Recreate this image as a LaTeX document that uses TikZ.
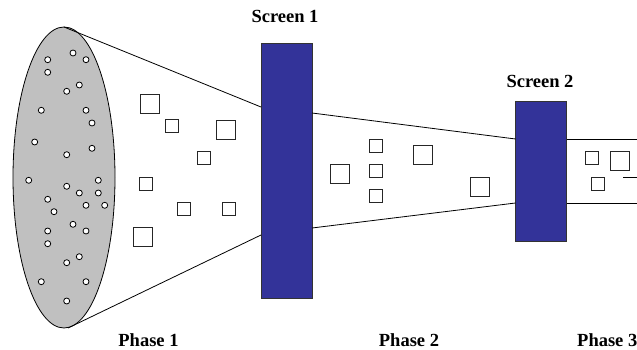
\documentclass[tikz,border=0pt]{standalone}
\usepackage{fontspec}
\setmainfont{Liberation Serif}
\usetikzlibrary{shapes.geometric}
\definecolor{screenblue}{HTML}{333399}
\definecolor{lensgray}{HTML}{C0C0C0}
\begin{document}
\begin{tikzpicture}[x=1pt,y=-1pt,
  lbl/.style={font=\bfseries\fontsize{18.5}{20}\selectfont, inner sep=0pt},
  screen/.style={draw=black!80, fill=screenblue, line width=0.8pt, minimum width=51pt, inner sep=0pt},
  dot/.style={circle, draw=black, fill=white, line width=0.8pt, minimum size=6pt, inner sep=0pt},
  sq/.style={draw=black!85, fill=white, line width=0.9pt, minimum size=#1, inner sep=0pt},
  sq/.default=13pt,
  edge/.style={draw=black, line width=0.8pt}]
\path[use as bounding box, clip] (0,0) rectangle (637,350);
% lens
\node[ellipse, draw=black, fill=lensgray, line width=0.8pt, minimum width=102pt, minimum height=301pt, inner sep=0pt] (lens) at (64,177.5) {};
\coordinate (lt) at (64,27);
\coordinate (lb) at (68,328);
% screens
\node[screen, minimum height=255pt] (s1) at (286.5,170.5) {};
\node[screen, minimum height=140pt] (s2) at (541,171) {};
\coordinate (s1a) at (261,107);
\coordinate (s1b) at (261,235);
\coordinate (s1c) at (312,113);
\coordinate (s1d) at (312,228);
\coordinate (s2a) at (515.5,139);
\coordinate (s2b) at (515.5,203);
\coordinate (s2c) at (566.5,139);
\coordinate (s2d) at (566.5,203);
\coordinate (e1) at (640,139);
\coordinate (e2) at (640,203);
\coordinate (m1) at (623,177);
\coordinate (m2) at (640,177);
\draw[edge] (lt) -- (s1a);
\draw[edge] (lb) -- (s1b);
\draw[edge] (s1c) -- (s2a);
\draw[edge] (s1d) -- (s2b);
\draw[edge] (s2c) -- (e1);
\draw[edge] (s2d) -- (e2);
\draw[edge] (m1) -- (m2);
% dots
\foreach \x/\y [count=\i] in {73/53,47.7/59.7,86/59.7,47.7/72.3,79.3/85,66.7/91.3,41.3/110.3,86/110.3,92/123,34.7/142,92/148.3,66.7/154.7,28.7/180.3,98.3/180.3,66.7/186.3,79.3/193,98.3/193,47.7/199.3,86/205.3,104.7/205.3,54/211.7,73/224.3,47.7/231,86/231,47.7/243.7,79.3/256.7,66.7/262.7,41.3/281.7,86/281.7,66.7/301}
  \node[dot] (d\i) at (\x,\y) {};
% phase 1 squares
\node[sq=19pt] (p1a) at (149.7,104) {};
\node[sq] (p1b) at (172,126) {};
\node[sq=19pt] (p1c) at (226,129.5) {};
\node[sq] (p1d) at (203.7,158) {};
\node[sq] (p1e) at (146.3,183.5) {};
\node[sq] (p1f) at (184.3,208.8) {};
\node[sq] (p1g) at (228.8,208.8) {};
\node[sq=19pt] (p1h) at (143.3,237.3) {};
% phase 2 squares
\node[sq=19pt] (p2a) at (340.3,174) {};
\node[sq] (p2b) at (375.5,145.5) {};
\node[sq] (p2c) at (375.5,170.8) {};
\node[sq] (p2d) at (375.5,196) {};
\node[sq=19pt] (p2e) at (423,155) {};
\node[sq=19pt] (p2f) at (480.2,186.8) {};
% phase 3 squares
\node[sq] (p3a) at (591.8,158) {};
\node[sq=19pt] (p3b) at (620,161.2) {};
\node[sq] (p3c) at (598,183.5) {};
% labels
\node[lbl] (t1) at (285,16) {Screen 1};
\node[lbl] (t2) at (540,81) {Screen 2};
\node[lbl] (ph1) at (148.5,340) {Phase 1};
\node[lbl] (ph2) at (409,340) {Phase 2};
\node[lbl, anchor=west] (ph3) at (577,340) {Phase 3};
\end{tikzpicture}
\end{document}
